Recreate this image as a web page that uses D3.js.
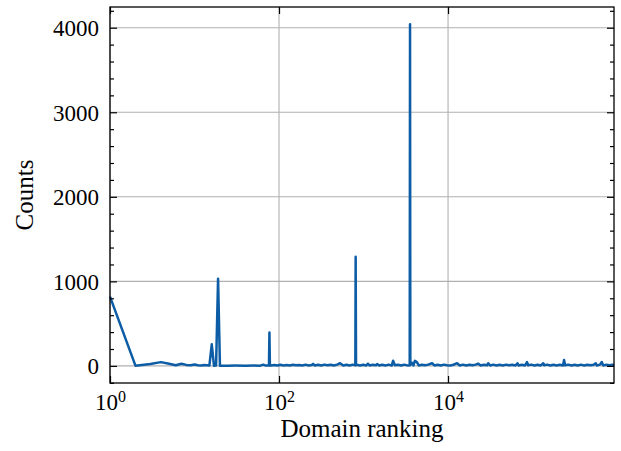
<!DOCTYPE html>
<meta charset="utf-8">
<style>
  body { margin: 0; background: #fff; }
  svg text { font-family: "Liberation Serif", "Times New Roman", Times, serif; fill: #000; }
</style>
<script src="https://d3js.org/d3.v7.min.js"></script>
<body>
<script>

var width = 621,
    height = 451,
    margin = {top: 7, right: 7, bottom: 68, left: 110};

// domain ranking (x) and how many times it was seen (y)
var ranks = [
  1, 2, 3, 4, 5, 6, 7, 8, 9, 10, 11, 12, 13, 14, 15, 16, 17, 18, 19, 20,
  25, 30, 40, 50, 60, 65, 70, 76, 77, 78,
  80, 88, 95, 104, 113, 123, 134, 146, 159, 173, 189, 206, 224, 244, 253, 266, 290, 316, 344, 375,
  409, 446, 486, 528, 576, 628, 684, 745, 800, 807, 815, 835, 910, 992,
  1080, 1128, 1180, 1286, 1400, 1447, 1530, 1665, 1815, 1980, 2160, 2240, 2350, 2560, 2790, 3040,
  3300, 3520, 3550, 3580, 3750, 3900, 4050, 4280, 4500, 4900, 5350, 5830, 6470, 6900, 7530, 8200, 8940, 9750,
  10600, 11600, 12800, 13800, 15000, 16400, 17900, 19500, 21200, 22700, 24300, 26500, 28900, 29900,
  31500, 34300, 37400, 40800, 44500, 48500, 52800, 57600, 62800, 66300, 68400, 74600, 81300, 86000, 88600, 96600,
  105000, 115000, 125000, 134000, 137000, 149000, 162000, 177000, 193000, 210000, 229000, 236000, 243000,
  265000, 289000, 315000, 343000, 374000, 408000, 445000, 485000, 528000, 560000, 576000, 628000, 660000,
  684000, 745000, 812000, 885000, 920000
];
var counts = [
  820, 3, 22, 45, 25, 8, 26, 12, 8, 16, 8, 6, 10, 8, 5, 255, 2, 4, 1030, 3,
  3, 4, 3, 4, 3, 15, 4, 5, 395, 5,
  6, 12, 5, 13, 6, 11, 5, 14, 7, 12, 5, 15, 6, 12, 24, 6, 14, 5, 15, 7,
  13, 6, 15, 32, 6, 14, 5, 15, 7, 1290, 8, 13, 6, 14,
  6, 26, 5, 14, 7, 22, 5, 13, 6, 15, 5, 62, 7, 14, 5, 15,
  6, 8, 4040, 10, 38, 7, 60, 45, 6, 14, 7, 15, 32, 6, 14, 5, 15, 7,
  6, 14, 32, 6, 15, 5, 13, 7, 15, 27, 6, 14, 7, 32,
  5, 15, 6, 14, 6, 15, 7, 13, 5, 32, 6, 14, 6, 46, 7, 15,
  6, 14, 6, 32, 7, 15, 5, 14, 6, 13, 6, 70, 7,
  15, 5, 14, 6, 15, 6, 14, 7, 13, 32, 6, 15, 46,
  6, 14, 7, 14, 6
];

var yMajor = [0, 1000, 2000, 3000, 4000];
var yMinor = d3.range(-200, 4201, 200).filter(function(v){ return v % 1000 != 0; });
var xMajor = [1, 100, 10000];
var xExp = ["0", "2", "4"];

var data = ranks.map(function(r, i){ return {rank: r, count: counts[i]}; });

var x = d3.scaleLog()
    .domain([1, 920000])
    .range([margin.left, width - margin.right]);
var y = d3.scaleLinear()
    .domain([-202, 4245])
    .range([height - margin.bottom, margin.top]);

var svg = d3.select("body").append("svg")
    .attr("width", width)
    .attr("height", height)
    .attr("font-family", "Liberation Serif");

// grid
svg.append("g").selectAll("line").data(xMajor).enter().append("line")
    .attr("x1", function(d){ return x(d); }).attr("x2", function(d){ return x(d); })
    .attr("y1", margin.top).attr("y2", height - margin.bottom)
    .attr("stroke", "#b0b0b0").attr("stroke-width", 1.1);
svg.append("g").selectAll("line").data(yMajor).enter().append("line")
    .attr("x1", margin.left).attr("x2", width - margin.right)
    .attr("y1", function(d){ return y(d); }).attr("y2", function(d){ return y(d); })
    .attr("stroke", "#b0b0b0").attr("stroke-width", 1.1);

var line = d3.line()
    .x(function(d){ return x(d.rank); })
    .y(function(d){ return y(d.count); });

svg.append("path")
    .datum(data)
    .attr("d", line)
    .attr("fill", "none")
    .attr("stroke", "#0C5DA5")
    .attr("stroke-width", 2.5)
    .attr("stroke-linejoin", "round");

function tidy(g) {
  g.attr("font-family", "Liberation Serif");
  g.select(".domain").remove();
  g.selectAll(".tick line").attr("stroke", "#000").attr("stroke-width", 1.2);
  g.selectAll(".tick text").attr("font-size", 23);
}

// y axis, left and right
svg.append("g")
    .attr("transform", "translate(" + margin.left + ",0)")
    .call(d3.axisLeft(y).tickValues(yMinor).tickSizeInner(-4).tickSizeOuter(0).tickFormat(""))
    .call(tidy);
svg.append("g")
    .attr("transform", "translate(" + margin.left + ",0)")
    .call(d3.axisLeft(y).tickValues(yMajor).tickSizeInner(-7).tickSizeOuter(0).tickPadding(11).tickFormat(d3.format("d")))
    .call(tidy)
    .selectAll(".tick text").attr("dy", "0.34em");
svg.append("g")
    .attr("transform", "translate(" + (width - margin.right) + ",0)")
    .call(d3.axisRight(y).tickValues(yMinor).tickSizeInner(-4).tickSizeOuter(0).tickFormat(""))
    .call(tidy);
svg.append("g")
    .attr("transform", "translate(" + (width - margin.right) + ",0)")
    .call(d3.axisRight(y).tickValues(yMajor).tickSizeInner(-7).tickSizeOuter(0).tickFormat(""))
    .call(tidy);

// x axis, bottom and top
var xb = svg.append("g")
    .attr("transform", "translate(0," + (height - margin.bottom) + ")")
    .call(d3.axisBottom(x).tickValues(xMajor).tickSizeInner(-7).tickSizeOuter(0).tickPadding(4).tickFormat(""))
    .call(tidy);
xb.selectAll(".tick text").each(function(d, i){
  var t = d3.select(this).attr("dy", null).attr("y", 27);
  t.append("tspan").text("10");
  t.append("tspan").attr("font-size", 16).attr("dy", -8).text(xExp[i]);
});
svg.append("g")
    .attr("transform", "translate(0," + margin.top + ")")
    .call(d3.axisTop(x).tickValues(xMajor).tickSizeInner(-7).tickSizeOuter(0).tickFormat(""))
    .call(tidy);

// frame
svg.append("rect")
    .attr("x", margin.left).attr("y", margin.top)
    .attr("width", width - margin.left - margin.right)
    .attr("height", height - margin.top - margin.bottom)
    .attr("fill", "none").attr("stroke", "#000").attr("stroke-width", 1.3);

// axis titles
svg.append("text")
    .attr("x", (margin.left + width - margin.right) / 2)
    .attr("y", 437)
    .attr("text-anchor", "middle")
    .attr("font-size", 25)
    .text("Domain ranking");
svg.append("text")
    .attr("transform", "translate(33," + ((margin.top + height - margin.bottom) / 2) + ") rotate(-90)")
    .attr("text-anchor", "middle")
    .attr("font-size", 25)
    .text("Counts");

</script>
</body>
